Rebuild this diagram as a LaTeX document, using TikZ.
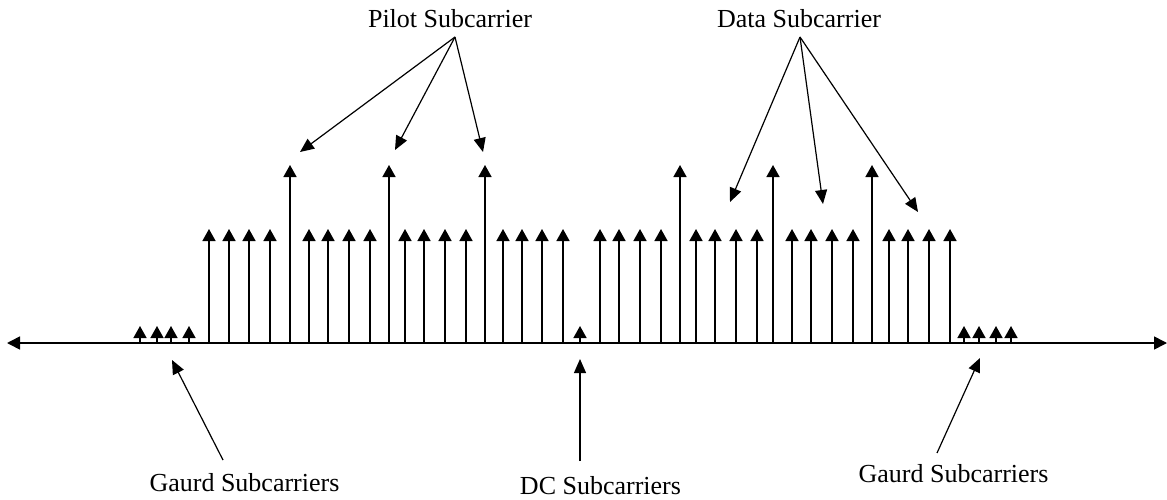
\documentclass[tikz,border=0pt]{standalone}
\usepackage{fontspec}
\setmainfont{Liberation Serif}
\usetikzlibrary{arrows.meta}
\begin{document}
\begin{tikzpicture}[x=1pt,y=-1pt,
  axisline/.style={line width=1.6pt,{Triangle[length=13pt,width=13pt]}-{Triangle[length=13pt,width=13pt]}},
  stem/.style={line width=1.5pt,-{Triangle[length=12pt,width=13pt]}},
  pointer/.style={line width=1.2pt,-{Triangle[length=14pt,width=12pt]}},
  caption/.style={anchor=base,inner sep=0pt,font=\fontsize{26}{30}\selectfont}]
\useasboundingbox (0,0) rectangle (1167,500);

% frequency axis
\coordinate (axL) at (7,343);
\coordinate (axR) at (1167,343);
\draw[axisline] (axL) -- (axR);

% guard and DC subcarriers (short)
\foreach \x in {140,157,171,189,580,964,979,996,1011}
  \draw[stem] (\x,343) -- (\x,326);
% data subcarriers
\foreach \x in {209,229,249,270,309,328,349,370,405,424,445,466,503,522,542,563,
                600,619,640,661,696,715,736,757,792,811,832,853,889,908,929,950}
  \draw[stem] (\x,343) -- (\x,229);
% pilot subcarriers (tall)
\foreach \x in {290,389,485,680,773,872}
  \draw[stem] (\x,343) -- (\x,165);

% labels
\node[caption] (pilot) at (450,28) {Pilot Subcarrier};
\node[caption] (data)  at (799,28) {Data Subcarrier};
\node[caption] (gl)    at (244.5,491) {Gaurd Subcarriers};
\node[caption] (dc)    at (600.5,494) {DC Subcarriers};
\node[caption] (gr)    at (953.5,482) {Gaurd Subcarriers};

% pointer origins and targets
\coordinate (pO) at (455,37);
\coordinate (p1) at (300,152);
\coordinate (p2) at (395,150);
\coordinate (p3) at (483,152);
\coordinate (dO) at (800,37);
\coordinate (d1) at (730,202);
\coordinate (d2) at (823,204);
\coordinate (d3) at (918,212);
\coordinate (glO) at (223,460);
\coordinate (glT) at (172,360);
\coordinate (dcO) at (580,461);
\coordinate (dcT) at (580,359);
\coordinate (grO) at (937,453);
\coordinate (grT) at (980,358);

\draw[pointer] (pO) -- (p1);
\draw[pointer] (pO) -- (p2);
\draw[pointer] (pO) -- (p3);
\draw[pointer] (dO) -- (d1);
\draw[pointer] (dO) -- (d2);
\draw[pointer] (dO) -- (d3);
\draw[pointer] (glO) -- (glT);
\draw[pointer] (dcO) -- (dcT);
\draw[pointer] (grO) -- (grT);
\end{tikzpicture}
\end{document}
